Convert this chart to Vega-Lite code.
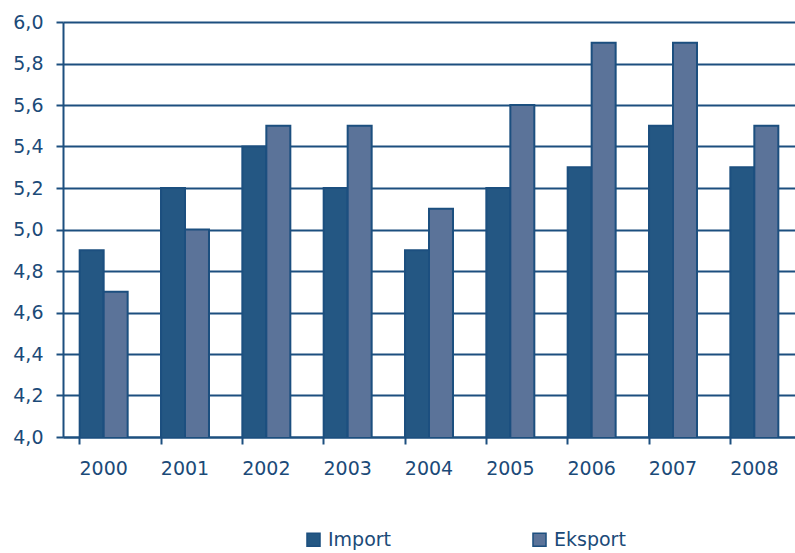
{
  "$schema": "https://vega.github.io/schema/vega-lite/v6.json",
  "autosize": {"type": "none"},
  "width": 732,
  "height": 415,
  "padding": {"left": 63, "top": 22, "right": 0, "bottom": 116},
  "background": "white",
  "config": {
    "view": {"stroke": null},
    "font": "DejaVu Sans"
  },
  "data": {
    "values": [
      {"year": "2000", "series": "Import", "value": 4.9},
      {"year": "2000", "series": "Eksport", "value": 4.7},
      {"year": "2001", "series": "Import", "value": 5.2},
      {"year": "2001", "series": "Eksport", "value": 5.0},
      {"year": "2002", "series": "Import", "value": 5.4},
      {"year": "2002", "series": "Eksport", "value": 5.5},
      {"year": "2003", "series": "Import", "value": 5.2},
      {"year": "2003", "series": "Eksport", "value": 5.5},
      {"year": "2004", "series": "Import", "value": 4.9},
      {"year": "2004", "series": "Eksport", "value": 5.1},
      {"year": "2005", "series": "Import", "value": 5.2},
      {"year": "2005", "series": "Eksport", "value": 5.6},
      {"year": "2006", "series": "Import", "value": 5.3},
      {"year": "2006", "series": "Eksport", "value": 5.9},
      {"year": "2007", "series": "Import", "value": 5.5},
      {"year": "2007", "series": "Eksport", "value": 5.9},
      {"year": "2008", "series": "Import", "value": 5.3},
      {"year": "2008", "series": "Eksport", "value": 5.5}
    ]
  },
  "mark": {"type": "bar", "stroke": "#1c4f7f", "strokeWidth": 2, "clip": true},
  "encoding": {
    "x": {
      "field": "year",
      "type": "nominal",
      "scale": {"paddingInner": 0.41, "paddingOuter": 0.205},
      "axis": {
        "title": null,
        "labelAngle": 0,
        "labelFontSize": 19,
        "labelColor": "#1b4a78",
        "labelPadding": 15,
        "domainColor": "#1c4f7f",
        "domainWidth": 2,
        "tickColor": "#1c4f7f",
        "tickWidth": 2,
        "tickSize": 7,
        "bandPosition": 0,
        "grid": false
      }
    },
    "xOffset": {"field": "series", "sort": ["Import", "Eksport"]},
    "y": {
      "field": "value",
      "type": "quantitative",
      "scale": {"domain": [4, 6], "zero": false, "nice": false},
      "axis": {
        "title": null,
        "values": [4, 4.2, 4.4, 4.6, 4.8, 5, 5.2, 5.4, 5.6, 5.8, 6],
        "format": ".1f",
        "labelExpr": "replace(datum.label, '.', ',')",
        "labelFontSize": 19,
        "labelColor": "#1b4a78",
        "labelPadding": 13,
        "domainColor": "#1c4f7f",
        "domainWidth": 2,
        "tickColor": "#1c4f7f",
        "tickWidth": 2,
        "tickSize": 7,
        "grid": true,
        "gridColor": "#1c4f7f",
        "gridWidth": 2,
        "gridOpacity": 1
      }
    },
    "color": {
      "field": "series",
      "type": "nominal",
      "sort": ["Import", "Eksport"],
      "scale": {"domain": ["Import", "Eksport"], "range": ["#245783", "#5b7399"]},
      "legend": {
        "title": null,
        "orient": "none",
        "legendX": 241,
        "legendY": 508,
        "direction": "horizontal",
        "symbolType": "square",
        "symbolSize": 170,
        "symbolStrokeColor": "#1c4f7f",
        "symbolStrokeWidth": 1.5,
        "labelFontSize": 19,
        "labelColor": "#1b4a78",
        "labelOffset": 5,
        "columnPadding": 137
      }
    }
  }
}
